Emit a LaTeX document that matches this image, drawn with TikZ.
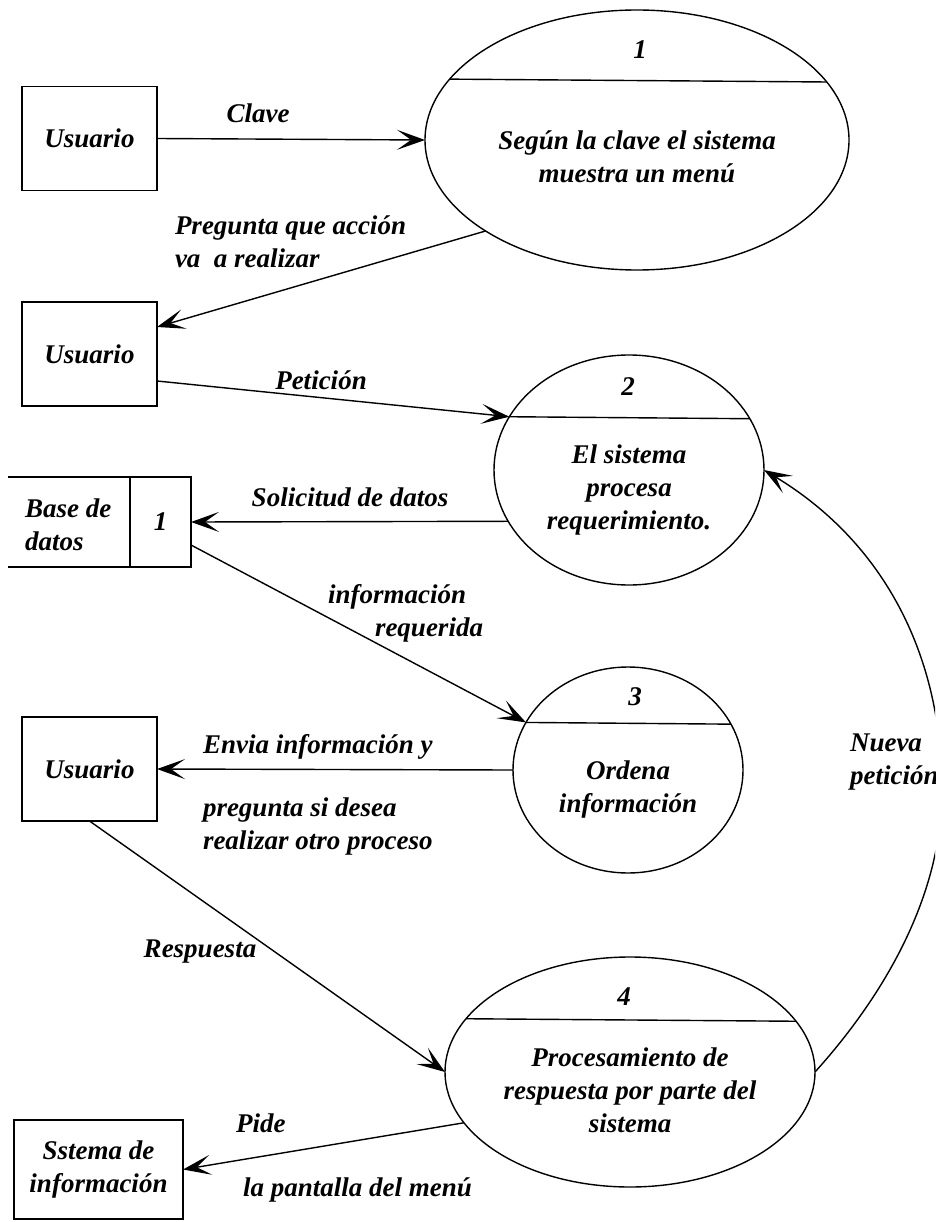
\documentclass[tikz,border=0pt]{standalone}
\usepackage{fontspec}
\setmainfont{Liberation Serif}
\usetikzlibrary{arrows.meta,shapes.geometric,calc}
\begin{document}
\begin{tikzpicture}[x=1pt,y=-1pt,
  line width=1.4pt,
  every node/.style={font=\fontsize{27}{33}\selectfont\bfseries\itshape, inner sep=0pt, outer sep=0pt},
  entity/.style={draw, minimum width=135pt, minimum height=104pt, align=center},
  proc/.style={draw, ellipse},
  lbl/.style={align=left},
  flow/.style={-{Stealth[length=28pt,width=20pt,inset=14pt]}},
]
\useasboundingbox (0,0) rectangle (935,1222);
\clip (0,0) rectangle (935,1222);

% external entities
\node[entity] (u1) at (89.5,138.5) {Usuario};
\node[entity] (u2) at (89.5,354) {Usuario};
\node[entity] (u3) at (89.5,769) {Usuario};
\node[entity, minimum width=169pt, minimum height=99pt] (si) at (98.5,1169.5) {Sstema de\\información};

% data store
\node[draw, minimum width=61pt, minimum height=90pt] (ds) at (160.5,522) {1};
\draw (ds.north west) -- ++(-122,0);
\draw (ds.south west) -- ++(-122,0);
\node[lbl, anchor=west] (dsl) at (25,525) {Base de\\datos};

% processes
\node[proc, minimum width=424pt, minimum height=260pt] (e1) at (637,140) {};
\draw (e1.162.3) -- (e1.17.7);
\node (e1n) at (640,50) {1};
\node[align=center] (e1t) at (637,157) {Según la clave el sistema\\muestra un menú};

\node[proc, minimum width=270pt, minimum height=230pt] (e2) at (629,470) {};
\draw (e2.156.6) -- (e2.23.4);
\node (e2n) at (628,387) {2};
\node[align=center] (e2t) at (629,490) {El sistema\\procesa\\requerimiento.};

\node[proc, minimum width=230pt, minimum height=206pt] (e3) at (628,770) {};
\draw (e3.155.3) -- (e3.24.7);
\node (e3n) at (635,697) {3};
\node[align=center] (e3t) at (628,789) {Ordena\\información};

\node[proc, minimum width=370pt, minimum height=230pt] (e4) at (630,1072) {};
\draw (e4.162.1) -- (e4.17.9);
\node (e4n) at (624,997) {4};
\node[align=center] (e4t) at (630,1090) {Procesamiento de\\respuesta por parte del\\sistema};

% data flows
\draw[flow] (u1.east) -- (e1.west);
\draw[flow] (e1.211.5) -- ($(u2.east)+(0,-27)$);
\draw[flow] ($(u2.east)+(0,27)$) -- (e2.156.6);
\draw[flow] (e2.203.3) -- (ds.east);
\draw[flow] ($(ds.east)+(0,23)$) -- (e3.155.3);
\draw[flow] (e3.west) -- (u3.east);
\draw[flow] (u3.south) -- (e4.west);
\draw[flow] (e4.197.2) -- (si.east);
\coordinate (nv) at (942,790);
\draw[flow] (e4.east) .. controls (880,1000) and (942,900) .. (nv)
  .. controls (942,650) and (880,540) .. (e2.east);

% flow labels
\node (lclave) at (258,113) {Clave};
\node[lbl, anchor=west] (lpreg) at (175,241.5) {Pregunta que acción\\va\ \ a realizar};
\node (lpet) at (321,380) {Petición};
\node (lsol) at (350,497) {Solicitud de datos};
\node[anchor=west] (linfo) at (328,597) {información};
\node[anchor=west] (lreq) at (375,630) {requerida};
\node[anchor=west] (lenv) at (203,747) {Envia información y};
\node[lbl, anchor=west] (lpsd) at (203,826) {pregunta si desea\\realizar otro proceso};
\node[lbl, anchor=west] (lnue) at (850,762) {Nueva\\petición};
\node (lresp) at (200,952) {Respuesta};
\node[anchor=west] (lpide) at (236,1123) {Pide};
\node[anchor=west] (lpant) at (243,1190) {la pantalla del menú};
\end{tikzpicture}
\end{document}
